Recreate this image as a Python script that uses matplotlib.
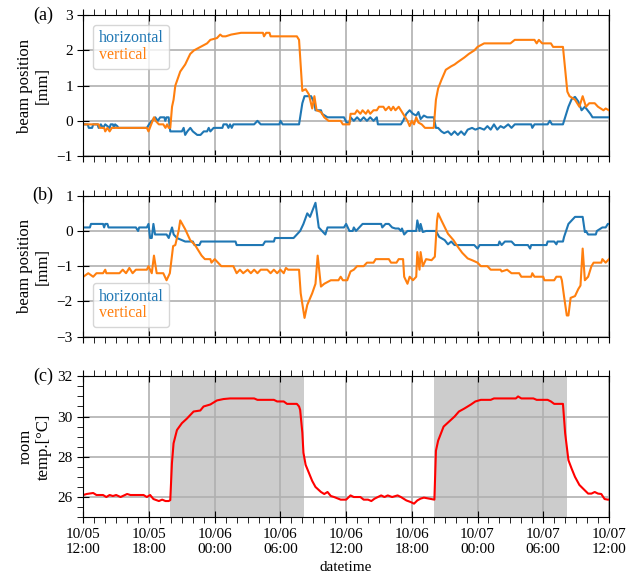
import matplotlib
matplotlib.use("Agg")
import matplotlib.pyplot as plt
import matplotlib.dates as mdates
from matplotlib.ticker import MultipleLocator
import pandas as pd

# hours after 10/05 12:00 and values
start = pd.Timestamp("2020-10-05 12:00")

a_hor_t = [0.0, 0.4, 0.5, 0.8, 0.9, 1.3, 1.4, 1.6, 1.8, 2.0, 2.2, 2.4, 2.5, 2.7, 2.8, 2.9, 3.1, 3.2,
           5.8, 6.0, 6.26, 6.57, 6.8, 7.02, 7.4, 7.48, 7.6, 7.79, 7.94, 8.1, 9.0, 9.16, 9.3, 9.5, 9.77,
           10.0, 10.4, 10.7, 11.0, 11.3, 11.45, 11.6, 11.9, 12.7, 12.8, 13.1, 13.25, 13.4, 13.55, 13.7,
           15.6, 15.9, 16.2, 17.9, 18.0, 18.2, 19.7, 20.0, 20.2, 20.8, 21.1, 21.2, 21.7, 21.8, 22.3, 23.8,
           24.05, 24.3, 24.4, 24.7, 25.0, 25.3, 25.6, 25.9, 26.2, 26.5, 26.8, 26.9, 29.0, 29.2, 29.5, 29.8,
           30.1, 30.4, 30.6, 30.8, 31.1, 31.4, 32.0, 32.2, 32.4, 32.7, 32.95, 33.3, 33.6, 33.9, 34.2, 34.5,
           34.8, 35.1, 35.5, 35.8, 36.2, 36.6, 36.9, 37.2, 37.5, 37.8, 38.1, 38.4, 38.8, 39.1, 39.4, 40.9,
           41.0, 41.2, 42.4, 42.6, 42.8, 43.8, 44.3, 44.6, 44.9, 45.2, 45.5, 45.8, 46.3, 46.5, 48.0]
a_hor_v = [-0.1, -0.1, -0.2, -0.2, -0.1, -0.1, -0.2, -0.1, -0.2, -0.1, -0.15, -0.2, -0.1, -0.1, -0.2, -0.1, -0.15, -0.2,
           -0.2, -0.1, 0.0, 0.1, 0.0, 0.1, 0.1, 0.0, 0.1, 0.1, -0.3, -0.3, -0.3, -0.2, -0.4, -0.3, -0.2,
           -0.3, -0.4, -0.4, -0.3, -0.3, -0.2, -0.3, -0.2, -0.2, -0.1, -0.1, -0.2, -0.1, -0.2, -0.1,
           -0.1, 0.0, -0.1, -0.1, 0.0, -0.1, -0.1, 0.5, 0.7, 0.7, 0.5, 0.3, 0.3, 0.2, 0.1, 0.1,
           -0.05, -0.05, 0.1, 0.0, 0.1, 0.0, 0.1, 0.0, 0.1, 0.0, 0.1, -0.1, -0.1, 0.0, 0.2, 0.3,
           0.2, 0.15, 0.25, 0.05, 0.15, 0.1, 0.1, -0.2, -0.2, -0.3, -0.35, -0.3, -0.4, -0.3, -0.4, -0.3,
           -0.4, -0.25, -0.2, -0.25, -0.2, -0.25, -0.15, -0.25, -0.1, -0.25, -0.15, -0.2, -0.1, -0.2, -0.1, -0.1,
           -0.2, -0.1, -0.1, 0.0, -0.1, -0.1, 0.4, 0.62, 0.68, 0.55, 0.3, 0.4, 0.2, 0.1, 0.1]

a_ver_t = [0.0, 1.4, 1.5, 1.9, 2.0, 2.2, 2.4, 2.6, 5.8, 5.95, 6.2, 6.45, 6.6, 6.9, 7.3, 7.5, 7.65, 7.8,
           7.94, 8.1, 8.24, 8.4, 8.85, 9.3, 9.76, 10.1, 10.7, 11.3, 11.6, 12.2, 12.5, 12.7, 13.0, 13.5,
           14.4, 16.4, 16.5, 16.7, 17.0, 17.1, 17.3, 19.5, 19.7, 20.0, 20.3, 20.6, 20.9, 21.1, 21.3, 21.7,
           22.0, 22.4, 23.5, 23.7, 24.3, 24.4, 24.8, 25.0, 25.3, 25.5, 25.8, 26.0, 26.2, 26.5, 26.8, 27.0,
           27.4, 27.6, 27.9, 28.1, 28.3, 28.5, 28.8, 29.0, 29.3, 29.6, 29.8, 30.0, 30.2, 30.4, 30.6, 30.9,
           31.2, 32.0, 32.2, 32.4, 32.7, 33.1, 33.6, 33.9, 34.2, 34.8, 35.2, 35.7, 36.0, 36.6, 39.0, 39.4,
           41.2, 41.4, 41.6, 41.9, 42.7, 42.9, 43.8, 44.2, 44.4, 44.9, 45.3, 45.6, 45.9, 46.2, 46.7, 47.0,
           47.5, 47.7, 48.0]
a_ver_v = [-0.1, -0.1, -0.2, -0.2, -0.3, -0.2, -0.3, -0.2, -0.2, -0.3, -0.1, 0.1, 0.0, -0.1, -0.1, -0.2, -0.1, -0.2,
           -0.2, 0.4, 0.6, 1.0, 1.4, 1.6, 1.9, 2.0, 2.1, 2.2, 2.3, 2.35, 2.45, 2.4, 2.4, 2.45,
           2.5, 2.5, 2.4, 2.5, 2.5, 2.4, 2.4, 2.4, 2.3, 0.85, 0.9, 0.75, 0.35, 0.7, 0.3, 0.25,
           0.1, 0.0, 0.0, -0.1, -0.1, 0.2, 0.2, 0.3, 0.2, 0.3, 0.2, 0.3, 0.2, 0.3, 0.3, 0.4,
           0.4, 0.3, 0.4, 0.3, 0.4, 0.3, 0.4, 0.3, 0.15, 0.0, -0.15, 0.0, -0.1, 0.1, -0.05, -0.1,
           -0.2, -0.2, 0.6, 0.92, 1.16, 1.45, 1.55, 1.6, 1.67, 1.8, 1.9, 2.0, 2.1, 2.2, 2.2, 2.3,
           2.3, 2.2, 2.3, 2.2, 2.2, 2.1, 2.1, 0.83, 0.7, 0.6, 0.4, 0.7, 0.4, 0.5, 0.5, 0.4,
           0.3, 0.35, 0.3]

b_hor_t = [0.0, 0.6, 0.7, 1.8, 1.9, 2.0, 2.2, 2.3, 4.8, 5.0, 5.1, 5.8, 5.95, 6.1, 6.25, 6.4, 6.55, 7.6,
           7.8, 8.1, 8.25, 8.55, 9.0, 9.3, 10.0, 10.15, 10.6, 10.75, 13.9, 14.0, 16.4, 16.6, 17.4, 17.5,
           19.2, 19.5, 19.8, 20.1, 20.45, 20.7, 21.2, 21.5, 21.8, 22.1, 22.3, 23.8, 24.0, 24.3, 24.6, 24.7,
           24.9, 25.2, 25.5, 27.2, 27.3, 27.6, 27.9, 28.2, 28.5, 28.8, 29.0, 29.1, 29.3, 29.6, 30.4, 30.5,
           30.7, 30.8, 31.0, 31.3, 32.2, 32.5, 33.0, 33.3, 33.6, 33.9, 35.7, 36.0, 36.2, 37.9, 38.0, 38.2,
           38.5, 39.1, 39.4, 40.6, 40.8, 40.9, 42.3, 42.4, 43.0, 43.2, 43.3, 43.8, 43.9, 44.3, 44.6, 44.9,
           45.6, 45.8, 45.9, 46.1, 46.8, 46.9, 47.4, 47.7, 47.9, 48.0]
b_hor_v = [0.1, 0.1, 0.2, 0.2, 0.1, 0.2, 0.2, 0.1, 0.1, 0.0, 0.1, 0.1, 0.2, -0.2, -0.2, 0.2, -0.1, -0.1,
           -0.2, 0.1, -0.1, -0.2, -0.26, -0.3, -0.3, -0.4, -0.4, -0.3, -0.3, -0.4, -0.4, -0.3, -0.3, -0.2,
           -0.2, -0.1, 0.0, 0.2, 0.5, 0.4, 0.8, 0.1, 0.0, -0.1, 0.1, 0.1, 0.2, 0.0, 0.0, 0.1,
           0.0, 0.1, 0.2, 0.2, 0.1, 0.2, 0.2, 0.1, 0.07, 0.07, 0.0, 0.07, -0.1, 0.0, 0.0, 0.3,
           0.0, 0.2, -0.03, 0.0, 0.0, -0.17, -0.26, -0.38, -0.3, -0.4, -0.4, -0.5, -0.4, -0.4, -0.3, -0.4,
           -0.3, -0.3, -0.4, -0.4, -0.5, -0.4, -0.4, -0.3, -0.3, -0.38, -0.3, -0.3, -0.17, 0.2, 0.3, 0.4,
           0.4, -0.03, 0.0, -0.1, -0.1, 0.0, 0.1, 0.1, 0.2, 0.2]

b_ver_t = [0.0, 0.45, 0.9, 1.2, 1.8, 2.0, 2.1, 3.3, 3.6, 3.9, 4.2, 4.5, 4.8, 5.8, 5.95, 6.25, 6.45, 6.7,
           7.3, 7.6, 7.9, 8.2, 8.4, 8.7, 8.85, 9.3, 9.76, 10.2, 10.5, 10.8, 11.1, 11.6, 11.7, 12.0, 12.3, 12.6,
           13.7, 14.0, 14.3, 14.6, 15.0, 15.3, 15.6, 15.9, 16.2, 16.8, 17.1, 17.4, 17.7, 18.0, 18.3, 18.5,
           18.7, 19.7, 19.85, 20.2, 20.45, 20.9, 21.2, 21.4, 21.7, 22.0, 22.3, 22.6, 23.3, 23.5, 23.7, 24.1,
           24.4, 24.7, 25.0, 25.6, 25.9, 26.5, 26.7, 27.9, 28.1, 28.6, 28.8, 29.2, 29.3, 29.6, 29.8, 30.1,
           30.4, 30.5, 30.7, 30.8, 31.0, 31.3, 31.8, 32.1, 32.3, 32.4, 32.7, 33.3, 33.8, 34.2, 34.6, 35.1,
           35.5, 36.0, 36.3, 36.9, 37.2, 38.1, 38.2, 38.7, 39.1, 39.8, 40.0, 40.9, 41.0, 41.2, 42.0, 42.1,
           43.0, 43.2, 43.6, 43.7, 43.9, 44.15, 44.3, 44.5, 44.9, 45.2, 45.4, 45.6, 45.8, 46.1, 46.4, 46.6,
           47.3, 47.4, 47.7, 48.0]
b_ver_v = [-1.3, -1.2, -1.3, -1.2, -1.2, -1.1, -1.2, -1.2, -1.1, -1.2, -1.05, -1.2, -1.1, -1.1, -1.0, -1.2, -0.7, -1.2,
           -1.2, -1.4, -1.2, -0.43, -0.4, 0.0, 0.3, 0.05, -0.26, -0.4, -0.55, -0.7, -0.8, -0.8, -0.9, -0.8, -0.9, -1.0,
           -1.0, -1.2, -1.1, -1.2, -1.1, -1.2, -1.1, -1.2, -1.1, -1.1, -1.2, -1.1, -1.2, -1.1, -1.2, -1.05,
           -1.1, -1.1, -1.77, -2.47, -2.1, -1.77, -1.5, -0.7, -1.58, -1.5, -1.45, -1.4, -1.4, -1.3, -1.4, -1.4,
           -1.15, -1.1, -1.0, -1.0, -0.9, -0.9, -0.8, -0.8, -0.9, -0.9, -0.8, -0.8, -1.3, -1.5, -1.3, -1.4,
           -1.3, -0.6, -1.1, -0.6, -1.0, -0.8, -0.83, -0.73, 0.3, 0.5, 0.3, -0.08, -0.26, -0.45, -0.62, -0.78,
           -0.83, -0.9, -1.0, -1.0, -1.1, -1.1, -1.15, -1.1, -1.2, -1.2, -1.3, -1.3, -1.2, -1.3, -1.3, -1.4,
           -1.4, -1.3, -1.3, -1.4, -1.86, -2.4, -2.4, -1.9, -1.85, -1.65, -1.55, -0.5, -1.4, -1.3, -1.0, -0.9,
           -0.9, -0.8, -0.9, -0.8]

temp_t = [0.0, 0.3, 0.9, 1.2, 1.8, 2.1, 2.4, 2.7, 3.0, 3.4, 4.0, 4.3, 5.5, 5.8, 6.1, 6.4, 6.9, 7.2, 7.5,
          7.8, 7.94, 8.09, 8.24, 8.55, 9.0, 9.46, 10.07, 10.68, 10.98, 11.6, 11.9, 12.2, 12.8, 13.4, 15.6,
          15.9, 17.4, 17.7, 18.3, 18.6, 19.5, 19.7, 19.8, 20.0, 20.1, 20.3, 20.6, 20.9, 21.2, 21.7, 22.0,
          22.3, 22.6, 22.9, 23.5, 24.0, 24.4, 24.7, 25.3, 25.6, 26.0, 26.3, 26.6, 26.9, 27.2, 27.5, 27.8,
          28.2, 28.7, 29.0, 29.5, 29.9, 30.2, 30.5, 30.8, 31.1, 32.06, 32.2, 32.4, 32.9, 33.4, 33.9, 34.3,
          34.8, 35.4, 35.8, 36.3, 37.2, 37.5, 39.5, 39.7, 40.0, 41.1, 41.4, 42.4, 42.7, 43.0, 43.8, 44.0,
          44.3, 44.6, 44.9, 45.3, 45.8, 46.1, 46.4, 46.7, 47.0, 47.3, 47.6, 47.9, 48.0]
temp_v = [26.1, 26.15, 26.2, 26.1, 26.1, 26.0, 26.1, 26.05, 26.1, 26.0, 26.15, 26.1, 26.1, 26.0, 26.1, 25.9, 25.8, 25.87, 25.8,
          25.8, 25.85, 27.67, 28.67, 29.33, 29.67, 29.9, 30.25, 30.3, 30.5, 30.6, 30.7, 30.8, 30.87, 30.9, 30.9,
          30.83, 30.83, 30.75, 30.75, 30.63, 30.63, 30.5, 30.33, 29.2, 28.2, 27.6, 27.2, 26.8, 26.5, 26.25, 26.15,
          26.25, 26.05, 26.0, 25.87, 25.87, 26.08, 26.0, 26.0, 25.87, 25.87, 25.8, 25.92, 26.0, 26.08, 26.0, 26.08,
          26.0, 26.08, 26.0, 25.83, 25.75, 25.67, 25.83, 25.92, 25.97, 25.87, 28.3, 28.8, 29.5, 29.75, 30.0, 30.25,
          30.4, 30.6, 30.75, 30.83, 30.83, 30.9, 30.9, 31.0, 30.9, 30.9, 30.83, 30.83, 30.75, 30.63, 30.63, 29.17,
          27.83, 27.4, 27.0, 26.6, 26.33, 26.17, 26.17, 26.25, 26.17, 26.15, 25.9, 25.87, 25.87]

# heater on periods (hours after start)
heat_on = [7.95, 32.05]
heat_off = [20.15, 44.2]


def to_time(hours):
    return start + pd.to_timedelta(hours, unit="h")


def style_axis(ax, show_labels):
    ax.set_xlim(to_time(0), to_time(48))
    ax.xaxis.set_major_locator(mdates.HourLocator(byhour=[0, 6, 12, 18]))
    ax.xaxis.set_minor_locator(mdates.HourLocator())
    ax.xaxis.set_major_formatter(mdates.DateFormatter("%m/%d\n%H:%M"))
    ax.tick_params(axis="x", which="major", direction="inout", length=8, top=True,
                   labelbottom=show_labels)
    ax.tick_params(axis="x", which="minor", direction="out", length=4, top=True)
    ax.tick_params(axis="y", which="major", direction="inout", length=8)
    ax.tick_params(axis="y", which="minor", direction="out", length=4)
    ax.grid(True, which="major", color="#b0b0b0", linewidth=1.2)


def add_legend(ax, lines, loc):
    leg = ax.legend(lines, ["horizontal", "vertical"], loc=loc, handlelength=0,
                    handletextpad=0, fontsize=11.5, borderaxespad=0.6, labelspacing=0.05,
                    borderpad=0.35)
    for h, t, c in zip(leg.legend_handles, leg.get_texts(), ["tab:blue", "tab:orange"]):
        h.set_visible(False)
        t.set_color(c)


def main():
    plt.rcParams["font.family"] = ["Liberation Serif", "DejaVu Serif"]
    plt.rcParams["font.size"] = 11

    fig, axes = plt.subplots(3, 1, figsize=(6.41, 5.85), dpi=100)
    fig.subplots_adjust(left=0.13, right=0.95, top=0.974, bottom=0.116, hspace=0.282)
    ax_a, ax_b, ax_c = axes

    la1, = ax_a.plot(to_time(a_hor_t), a_hor_v, color="tab:blue", lw=1.5)
    la2, = ax_a.plot(to_time(a_ver_t), a_ver_v, color="tab:orange", lw=1.5)
    ax_a.set_ylim(-1, 3)
    ax_a.yaxis.set_major_locator(MultipleLocator(1))
    add_legend(ax_a, [la1, la2], "upper left")

    lb1, = ax_b.plot(to_time(b_hor_t), b_hor_v, color="tab:blue", lw=1.5)
    lb2, = ax_b.plot(to_time(b_ver_t), b_ver_v, color="tab:orange", lw=1.5)
    ax_b.set_ylim(-3, 1)
    ax_b.yaxis.set_major_locator(MultipleLocator(1))
    add_legend(ax_b, [lb1, lb2], "lower left")

    for t0, t1 in zip(heat_on, heat_off):
        ax_c.axvspan(to_time(t0), to_time(t1), color="#cccccc", lw=0)
    ax_c.plot(to_time(temp_t), temp_v, color="red", lw=1.5)
    ax_c.set_ylim(25, 32)
    ax_c.yaxis.set_major_locator(MultipleLocator(2))
    ax_c.yaxis.set_minor_locator(MultipleLocator(0.5))

    for ax, lab in zip(axes, ["(a)", "(b)", "(c)"]):
        style_axis(ax, ax is ax_c)
        ax.text(-0.058, 1.0, lab, transform=ax.transAxes, ha="right", va="center", fontsize=13)

    ax_a.set_ylabel("beam position\n[mm]", fontsize=12)
    ax_b.set_ylabel("beam position\n[mm]", fontsize=12)
    ax_c.set_ylabel("room\ntemp.[°C]", fontsize=12)
    ax_c.set_xlabel("datetime")

    fig.savefig("out.png", dpi=100)


if __name__ == "__main__":
    main()
